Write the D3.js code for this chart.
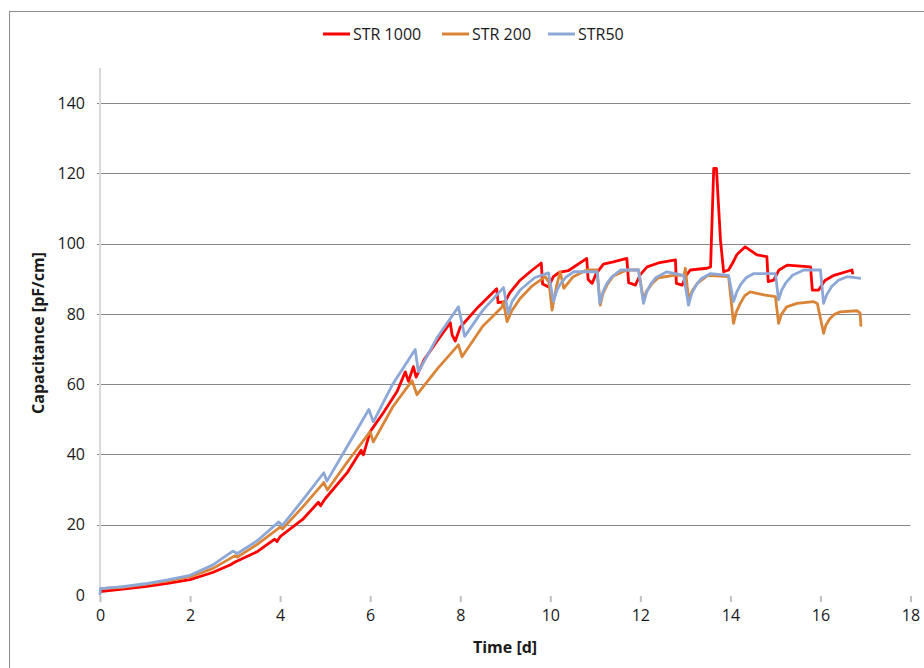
<!DOCTYPE html>
<html>
<head>
<meta charset="utf-8">
<script src="https://cdn.jsdelivr.net/npm/d3@7"></script>
<style>
  body { margin: 0; background: #fff; }
  svg { display: block; font-family: "Open Sans", sans-serif; }
</style>
</head>
<body>
<svg id="chart" width="924" height="668"></svg>
<script>
// Series names and colours (legend order)
let seriesNames = ['STR 1000', 'STR 200', 'STR50'];
let seriesColors = ['#ff0000', '#da8438', '#8da8d6'];

let xTicks = [0, 2, 4, 6, 8, 10, 12, 14, 16, 18];
let yTicks = [0, 20, 40, 60, 80, 100, 120, 140];

// [time in days, capacitance pF/cm]
let str1000 = [
    [0, 1.0], [0.5, 1.7], [1, 2.4], [1.5, 3.3], [2, 4.4], [2.5, 6.4], [2.9, 8.6], [3, 9.4],
    [3.5, 12.4], [3.88, 15.9], [3.93, 15.2], [4, 16.6], [4.5, 21.5], [4.85, 26.4], [4.9, 25.4],
    [5, 27.4], [5.5, 35], [5.8, 41.2], [5.85, 39.9], [6, 46.5], [6.3, 52], [6.6, 58],
    [6.78, 63.5], [6.85, 60.8], [6.96, 65], [7.02, 62], [7.2, 67], [7.5, 72.5], [7.78, 77.5],
    [7.82, 74], [7.89, 72.3], [8.0, 76.2], [8.4, 82], [8.81, 87.2], [8.84, 83.2], [9.0, 83.5],
    [9.1, 86], [9.33, 89.6], [9.6, 92.5], [9.8, 94.5], [9.83, 88.5], [9.96, 87.7], [10.07, 90.6],
    [10.2, 91.8], [10.4, 92.3], [10.81, 95.8], [10.84, 89.8], [10.93, 88.7], [11.02, 91.5],
    [11.18, 94.2], [11.4, 94.8], [11.7, 95.8], [11.74, 88.9], [11.89, 88.2], [12.0, 91.2],
    [12.15, 93.4], [12.4, 94.5], [12.78, 95.4], [12.8, 88.7], [12.93, 88.2], [13.02, 91],
    [13.11, 92.5], [13.48, 93], [13.56, 93.4], [13.63, 121.4], [13.69, 121.4],
    [13.78, 101], [13.85, 92], [13.96, 92.5], [14.05, 94.5], [14.15, 97], [14.33, 99.1],
    [14.59, 96.8], [14.81, 96.3], [14.84, 89.2], [14.96, 89.6], [15.08, 92.5], [15.26, 93.9],
    [15.78, 93.4], [15.82, 86.8], [15.96, 86.8], [16.1, 89.5], [16.3, 91], [16.7, 92.5],
    [16.72, 91.3]
];

let str200 = [
    [0, 1.8], [0.5, 2.2], [1, 3.0], [1.5, 4.0], [2, 5.2], [2.5, 7.5], [3, 11.2], [3.05, 10.8],
    [3.5, 14.5], [4, 19.3], [4.05, 18.8], [4.5, 25], [4.97, 32], [5.05, 29.9], [5.5, 38],
    [6, 46.5], [6.07, 43.6], [6.5, 53.5], [6.93, 61], [7.04, 57], [7.5, 64.5], [7.96, 71.2],
    [8.04, 67.8], [8.5, 76.5], [8.93, 82], [8.96, 83.5], [9.04, 77.8], [9.15, 81], [9.33, 84.4],
    [9.6, 88], [9.89, 90.6], [9.97, 89], [10.04, 81.1], [10.14, 88], [10.22, 92], [10.3, 87.3],
    [10.5, 90.5], [10.81, 92.5], [11.04, 92.5], [11.11, 82.5], [11.17, 85.8], [11.27, 88.5],
    [11.4, 90.8], [11.7, 92.5], [11.96, 92.5], [12.07, 84], [12.14, 86.5], [12.25, 88.5],
    [12.4, 90.3], [12.74, 91], [12.97, 91], [13.0, 93], [13.07, 84], [13.15, 86.5],
    [13.27, 88.8], [13.5, 91], [13.96, 90.6], [14.07, 77.3], [14.13, 80.5], [14.22, 83],
    [14.32, 85.2], [14.44, 86.3], [14.74, 85.4], [15.0, 84.9], [15.07, 77.3], [15.13, 79.8],
    [15.25, 82], [15.48, 83], [15.85, 83.5], [15.93, 83], [16.07, 74.5], [16.12, 76.8],
    [16.2, 78.5], [16.3, 79.8], [16.44, 80.6], [16.81, 80.9], [16.88, 80.3], [16.9, 76.4]
];

let str50 = [
    [0, 0], [0.01, 1.8], [0.5, 2.4], [1, 3.2], [1.5, 4.3], [2, 5.6], [2.5, 8.5], [2.95, 12.5],
    [3.05, 11.8], [3.5, 15.5], [3.97, 20.8], [4.05, 19.8], [4.5, 27], [4.97, 34.8], [5.04, 32.4],
    [5.5, 42.5], [5.97, 52.8], [6.07, 49.3], [6.5, 60], [7.0, 69.9], [7.07, 63.5], [7.5, 73.5],
    [7.96, 82], [8.1, 73.6], [8.5, 81], [8.96, 87.5], [9.07, 80.2], [9.15, 83.5], [9.33, 86.8],
    [9.65, 90.3], [9.96, 91.7], [10.07, 83.5], [10.14, 86.5], [10.22, 88.5], [10.35, 90.5],
    [10.52, 92], [11.04, 92], [11.1, 83], [11.17, 86.3], [11.25, 88.5], [11.36, 90.5],
    [11.56, 92.5], [11.96, 92.5], [12.07, 83], [12.14, 86.2], [12.23, 88.5], [12.35, 90.4],
    [12.59, 92], [12.96, 91], [13.07, 82.5], [13.14, 85.8], [13.23, 88], [13.35, 90],
    [13.56, 91.5], [13.96, 91], [14.07, 83.5], [14.14, 86.2], [14.23, 88.4], [14.35, 90.3],
    [14.52, 91.5], [15.0, 91.5], [15.07, 84], [15.14, 86.8], [15.24, 89], [15.38, 91],
    [15.63, 92.5], [16.0, 92.5], [16.07, 83], [16.14, 85.5], [16.25, 87.8], [16.4, 89.6],
    [16.59, 90.6], [16.9, 90.1]
];

let allSeries = [str1000, str200, str50];

let svg = d3.select('#chart');

// Chart frame
svg.append('rect')
    .attr('x', 9.5).attr('y', 11.5)
    .attr('width', 940).attr('height', 680)
    .attr('fill', 'none')
    .attr('stroke', '#8c8c8c');

let x = d3.scaleLinear().domain([0, 18]).range([100, 910.5]);
let y = d3.scaleLinear().domain([0, 150]).range([595, 68]);

// Gridlines
svg.append('g')
    .selectAll('line')
    .data(yTicks.filter(d => d > 0))
    .join('line')
    .attr('x1', 97).attr('x2', 910.5)
    .attr('y1', d => Math.round(y(d)) + 0.5)
    .attr('y2', d => Math.round(y(d)) + 0.5)
    .attr('stroke', '#878787');

// Y axis line
svg.append('line')
    .attr('x1', 100).attr('x2', 100)
    .attr('y1', 68).attr('y2', 597)
    .attr('stroke', '#d9d9d9')
    .attr('stroke-width', 2);

// Y tick labels
svg.append('g')
    .selectAll('text')
    .data(yTicks)
    .join('text')
    .attr('x', 85)
    .attr('y', d => y(d))
    .attr('dy', '0.35em')
    .attr('text-anchor', 'end')
    .attr('font-size', 16)
    .attr('fill', '#1a1a1a')
    .text(d => d);

// X ticks and labels
let xAxis = d3.axisBottom(x).tickValues(xTicks).tickSize(6).tickPadding(8);
let xg = svg.append('g')
    .attr('transform', 'translate(0,596)')
    .call(xAxis);
xg.select('.domain').remove();
xg.selectAll('.tick line').attr('stroke', '#c0c0c0').attr('stroke-width', 2);
xg.selectAll('.tick text')
    .attr('font-size', 16)
    .attr('font-family', '"Open Sans", sans-serif')
    .attr('fill', '#1a1a1a');

// Lines
let line = d3.line()
    .x(d => x(d[0]))
    .y(d => y(d[1]));

svg.append('g')
    .selectAll('path')
    .data(allSeries)
    .join('path')
    .attr('d', line)
    .attr('fill', 'none')
    .attr('stroke', (d, i) => seriesColors[i])
    .attr('stroke-width', 2.8)
    .attr('stroke-linejoin', 'round');

// Axis titles
svg.append('text')
    .attr('x', 505).attr('y', 653)
    .attr('text-anchor', 'middle')
    .attr('font-size', 16)
    .attr('font-weight', 'bold')
    .attr('fill', '#1a1a1a')
    .text('Time [d]');

svg.append('text')
    .attr('transform', 'translate(44,333) rotate(-90)')
    .attr('text-anchor', 'middle')
    .attr('font-size', 16)
    .attr('font-weight', 'bold')
    .attr('fill', '#1a1a1a')
    .text('Capacitance [pF/cm]');

// Legend
let legendX = [323, 442, 548];
let legend = svg.append('g')
    .selectAll('g')
    .data(seriesNames)
    .join('g')
    .attr('transform', (d, i) => `translate(${legendX[i]},34)`);

legend.append('line')
    .attr('x1', 0).attr('x2', 27)
    .attr('stroke', (d, i) => seriesColors[i])
    .attr('stroke-width', 3);

legend.append('text')
    .attr('x', 30)
    .attr('dy', '0.35em')
    .attr('font-size', 16)
    .attr('fill', '#1a1a1a')
    .text(d => d);
</script>
</body>
</html>
